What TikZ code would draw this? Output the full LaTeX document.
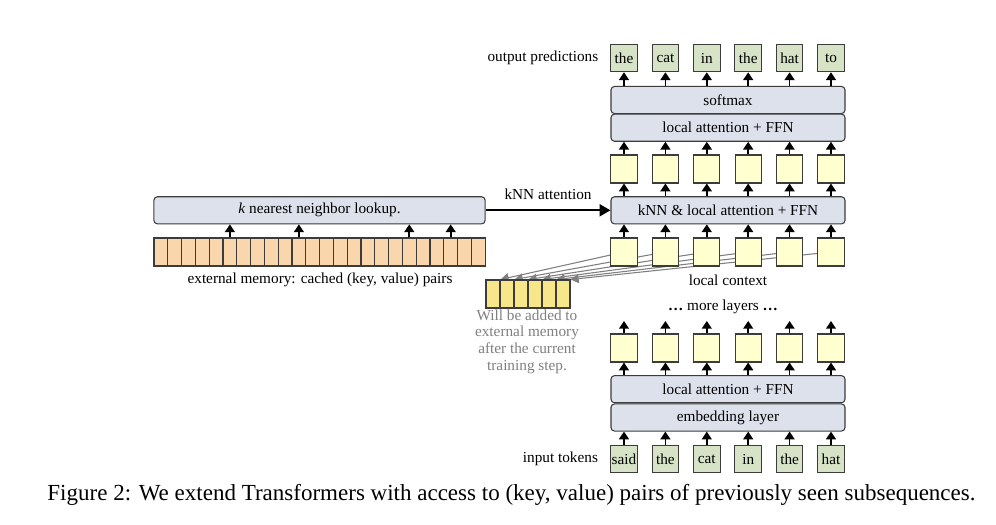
\documentclass[tikz,border=0pt]{standalone}
\usepackage{fontspec}
\setmainfont{Liberation Serif}
\usetikzlibrary{arrows.meta,positioning,backgrounds}

\definecolor{layerblue}{HTML}{DCE1EC}
\definecolor{tokgreen}{HTML}{D6E3C6}
\definecolor{hidyellow}{HTML}{FFFFD0}
\definecolor{memorange}{HTML}{FAD6AD}
\definecolor{newyellow}{HTML}{F8E68A}
\definecolor{edgegray}{HTML}{3C3C3C}
\definecolor{notegray}{HTML}{7F7F7F}

\newcommand\figfont{\fontsize{7.1}{7.75}\selectfont}

\tikzset{
  layer/.style={draw=edgegray, line width=0.5pt, fill=layerblue, rounded corners=1.6pt,
    minimum width=108.8pt, minimum height=12.6pt, inner sep=0pt},
  token/.style={draw=edgegray, line width=0.5pt, fill=tokgreen,
    minimum width=12.4pt, minimum height=12.8pt, inner sep=0.6pt},
  hidden/.style={draw=edgegray, line width=0.5pt, fill=hidyellow,
    minimum width=12.2pt, minimum height=13pt, inner sep=0pt},
  memcell/.style={draw=edgegray, line width=0.5pt, fill=memorange,
    minimum width=6.42pt, minimum height=13pt, inner sep=0pt},
  newcell/.style={draw=edgegray, line width=0.5pt, fill=newyellow,
    minimum width=6.5pt, minimum height=13pt, inner sep=0pt},
  up/.style={-{Triangle[width=4.6pt,length=3.6pt]}, line width=0.75pt},
  copyline/.style={-{Triangle[width=4.2pt,length=3.8pt]}, draw=notegray, line width=0.5pt},
}

\begin{document}
\begin{tikzpicture}[x=0.465pt, y=-0.465pt, font=\figfont]
  \useasboundingbox (0,0) rectangle (996,524);

  % layers of the transformer
  \node[layer] (softmax) at (728,100) {softmax};
  \node[layer] (attnTop) at (728,127.7) {local attention + FFN};
  \node[layer] (knnLayer) at (728,210.3) {kNN \& local attention + FFN};
  \node[layer] (attnLow) at (728,389.2) {local attention + FFN};
  \node[layer] (embed) at (728,417.5) {embedding layer};

  % tokens and hidden states
  \foreach \w [count=\i] in {the,cat,in,the,hat,to}
    \node[token] (outTok\i) at ({624+41.4*(\i-1)},58) {\w};
  \foreach \w [count=\i] in {said,the,cat,in,the,hat}
    \node[token] (inTok\i) at ({624+41.4*(\i-1)},459) {\w};
  \foreach \i in {1,...,6} {
    \node[hidden] (hidTop\i) at ({624+41.4*(\i-1)},169) {};
    \node[hidden] (hidKnn\i) at ({624+41.4*(\i-1)},252) {};
    \node[hidden] (hidLow\i) at ({624+41.4*(\i-1)},348) {};
    \coordinate (lowEnd\i) at ({624+41.4*(\i-1)},321);
  }

  \node[left=2pt of outTok1] {output predictions};
  \node[left=2pt of inTok1] {input tokens};
  \node at (728,280) {local context};
  \node at (723,307) {\textbf{\dots} more layers \textbf{\dots}};

  % upward arrows
  \foreach \i in {1,...,6} {
    \draw[up] (outTok\i.south |- softmax.north) -- (outTok\i.south);
    \draw[up] (hidTop\i.north) -- (hidTop\i.north |- attnTop.south);
    \draw[up] (hidTop\i.south |- knnLayer.north) -- (hidTop\i.south);
    \draw[up] (hidKnn\i.north) -- (hidKnn\i.north |- knnLayer.south);
    \draw[up] (hidLow\i.north) -- (lowEnd\i);
    \draw[up] (hidLow\i.south |- attnLow.north) -- (hidLow\i.south);
    \draw[up] (inTok\i.north) -- (inTok\i.north |- embed.south);
  }

  % external memory
  \node[layer, minimum width=154pt] (lookup) at (319.5,210.3) {\textit{k} nearest neighbor lookup.};
  \foreach \i in {1,...,24}
    \node[memcell] (mem\i) at ({160.9+13.8*(\i-1)},252) {};
  \foreach \i in {6,11,19,22}
    \draw[up] (mem\i.north) -- (mem\i.north |- lookup.south);
  \node at (320,280) {external memory: cached (key, value) pairs};

  \draw[-{Triangle[width=5.5pt,length=5pt]}, line width=1pt] (lookup.east) -- (knnLayer.west)
    node[midway, above=1pt] {kNN attention};

  % local context copied to memory
  \foreach \i in {1,...,6}
    \node[newcell] (newMem\i) at ({493+14*(\i-1)},294) {};
  \begin{scope}[on background layer]
    \foreach \i in {1,...,6}
      \draw[copyline] (hidKnn\i.center) -- (newMem\i.north east);
  \end{scope}
  \node[text=notegray, align=center] at (527,341.5)
    {Will be added to\\external memory\\after the current\\training step.};

  % caption
  \node at (511.5,495) {\fontsize{10.7}{12}\selectfont Figure 2: We extend Transformers with access to (key, value) pairs of previously seen subsequences.};
\end{tikzpicture}
\end{document}
